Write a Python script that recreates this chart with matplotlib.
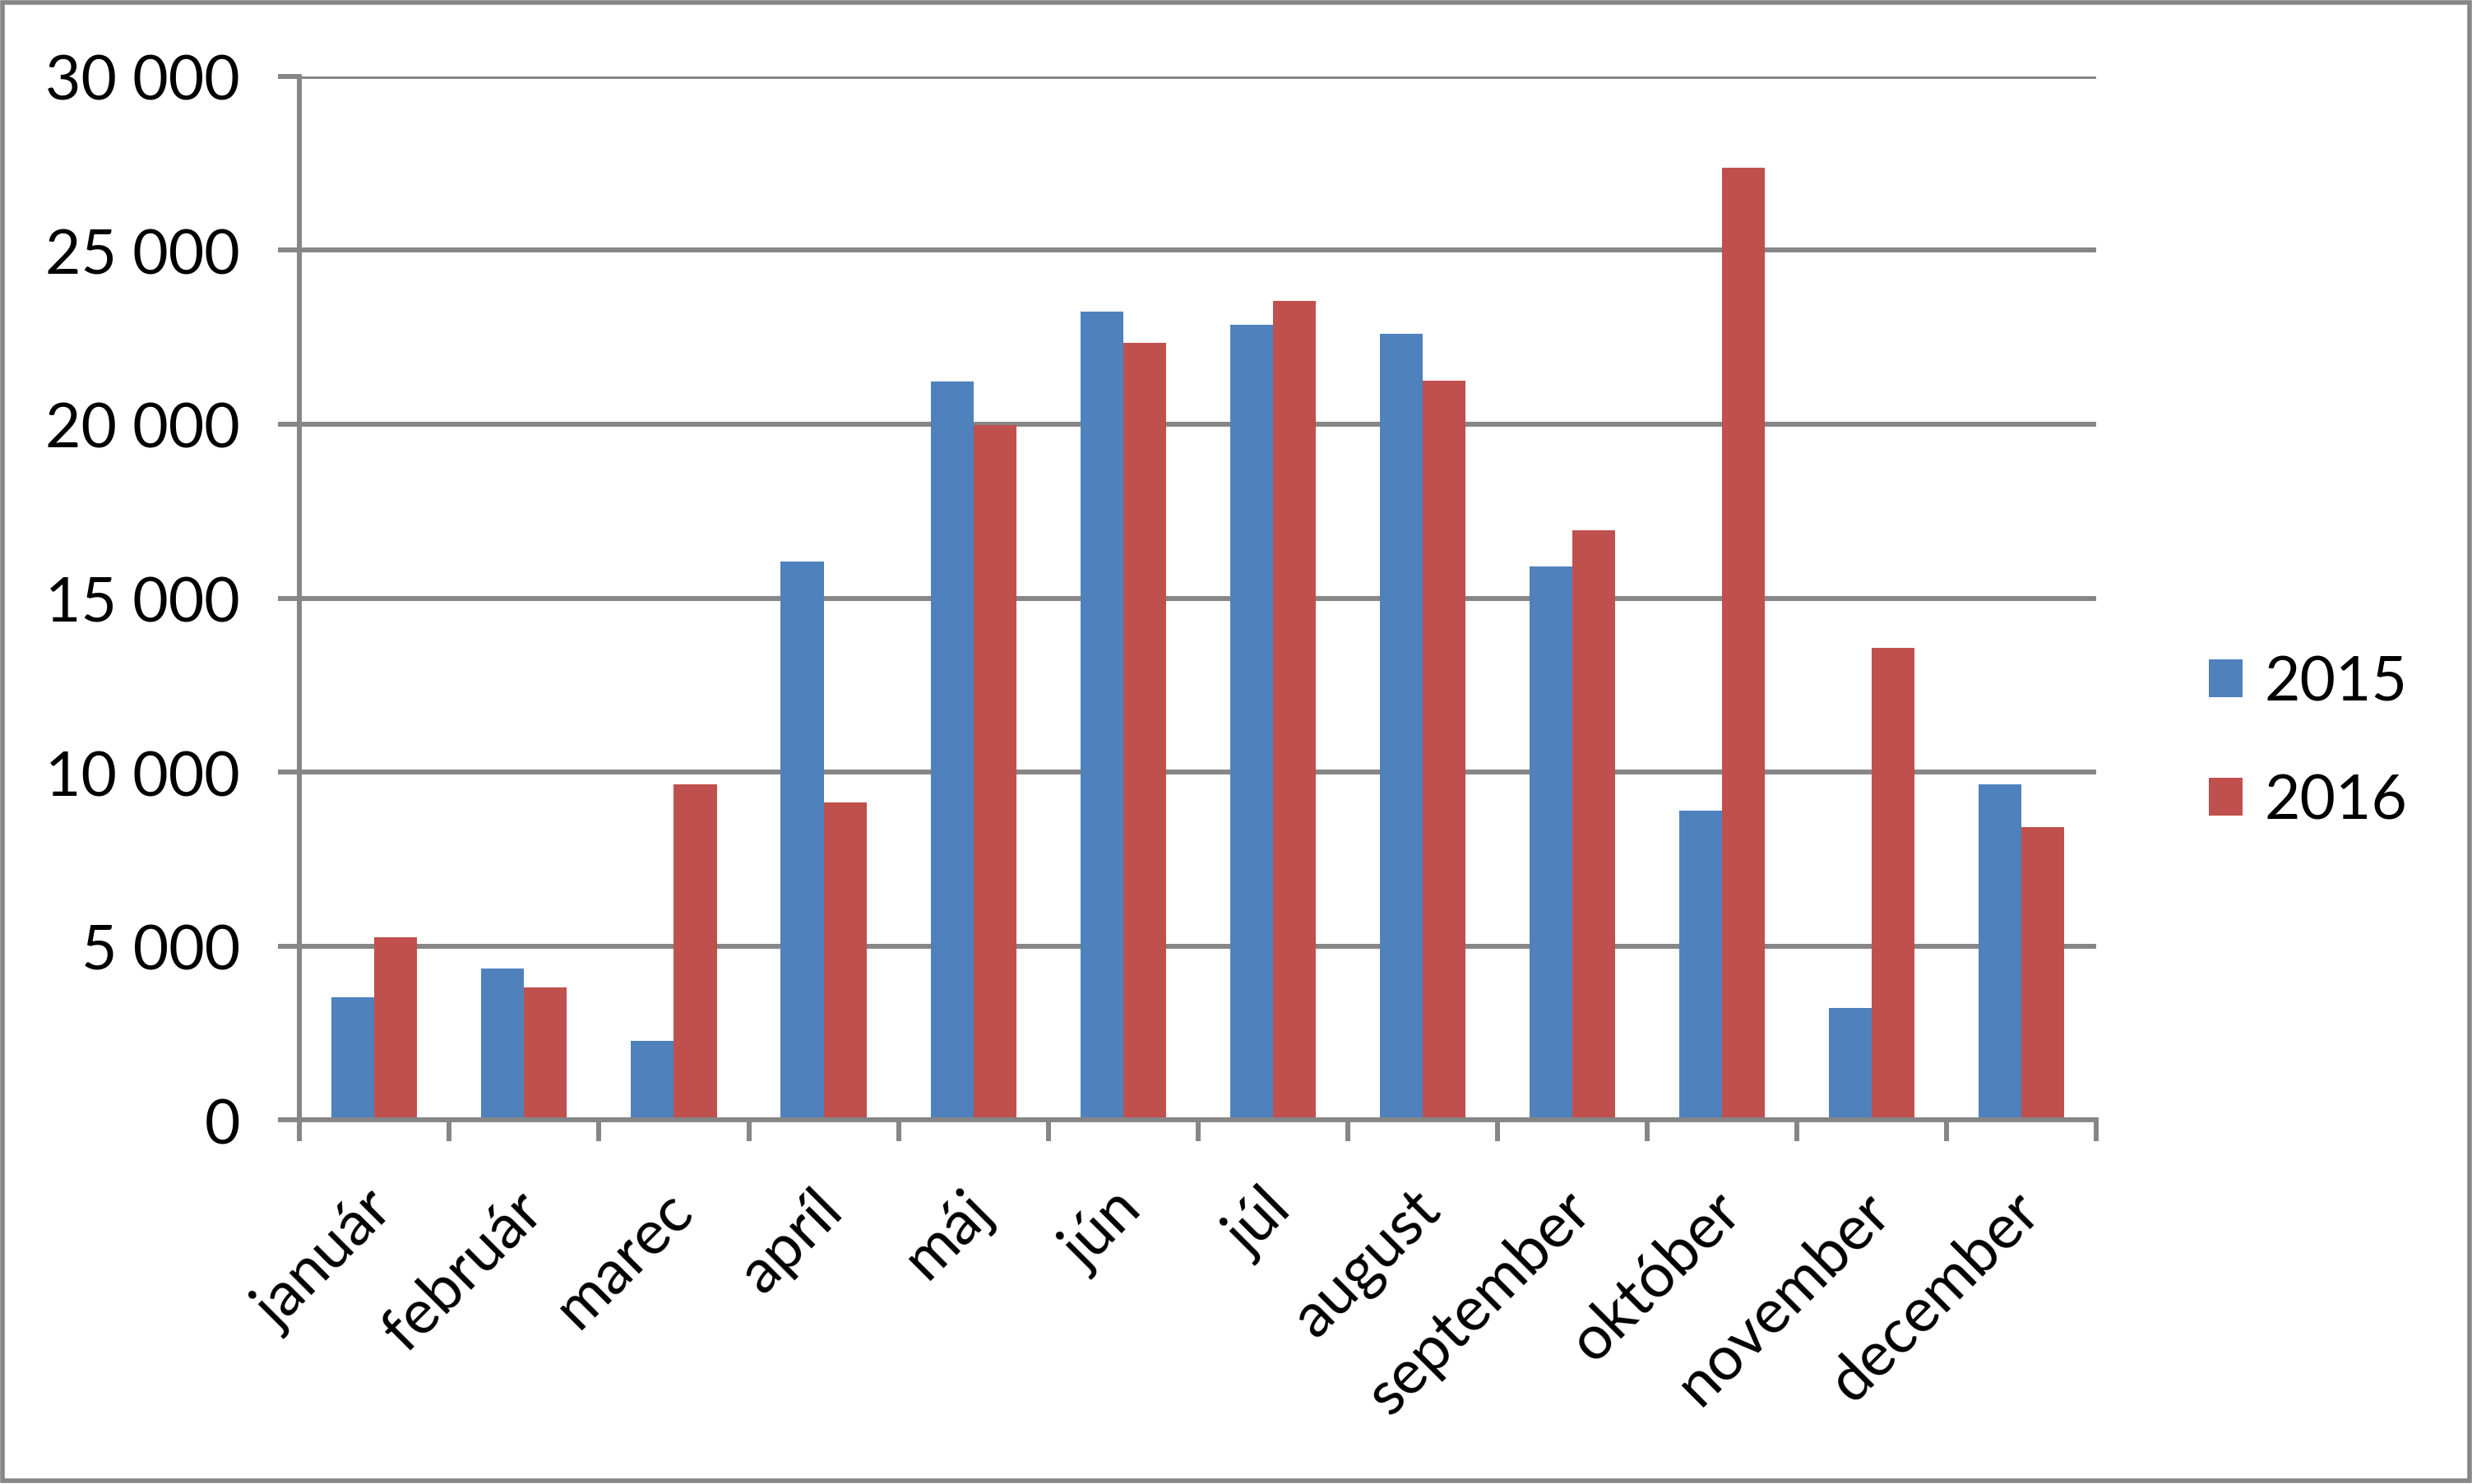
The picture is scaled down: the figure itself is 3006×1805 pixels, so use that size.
import matplotlib
matplotlib.use('Agg')
import matplotlib.pyplot as plt
import matplotlib.transforms as mtransforms
from matplotlib.patches import Rectangle
from matplotlib.ticker import FuncFormatter
import numpy as np

months = ['január', 'február', 'marec', 'apríl', 'máj', 'jún', 'júl',
          'august', 'september', 'október', 'november', 'december']
y2015 = [3520, 4350, 2270, 16050, 21220, 23230, 22850, 22600, 15900, 8880, 3220, 9650]
y2016 = [5260, 3800, 9650, 9120, 19980, 22350, 23550, 21260, 16960, 27380, 13560, 8430]
series = ['2015', '2016']
colors = ['#4F81BD', '#C0504D']
gray = '#868686'

plt.rcParams['font.family'] = ['Lato', 'DejaVu Sans']
fs = 54

fig = plt.figure(figsize=(30.06, 18.06), dpi=100)
ax = fig.add_axes([0.1212, 0.2452, 0.848 - 0.1212, 0.948 - 0.2452])

x = np.arange(len(months))
w = 0.286
ax.bar(x - w / 2, y2015, w, color=colors[0], label=series[0], zorder=3)
ax.bar(x + w / 2, y2016, w, color=colors[1], label=series[1], zorder=3)

ax.set_xlim(-0.5, len(months) - 0.5)
ax.set_ylim(0, 30000)
ax.set_yticks(np.arange(0, 30001, 5000))
ax.yaxis.set_major_formatter(FuncFormatter(lambda v, p: f'{int(v):,}'.replace(',', ' ')))
ax.grid(axis='y', color=gray, linewidth=4.3, zorder=0)

# tick marks at category boundaries, labels at centres
ax.set_xticks(np.arange(-0.5, len(months), 1.0), minor=True)
ax.set_xticks(x)
ax.set_xticklabels(months, rotation=45, ha='right', va='center', rotation_mode='anchor')
ax.tick_params(axis='x', which='major', length=0, pad=70, labelsize=fs)
ax.tick_params(axis='x', which='minor', length=19, width=4.3, color=gray, direction='out')
ax.tick_params(axis='y', length=19, width=4.3, color=gray, direction='out', pad=33, labelsize=fs)
off = mtransforms.ScaledTranslation(8 / 72, 0, fig.dpi_scale_trans)
for lab in ax.get_xticklabels():
    lab.set_transform(lab.get_transform() + off)

for s in ['top', 'right']:
    ax.spines[s].set_visible(False)
for s in ['left', 'bottom']:
    ax.spines[s].set_color(gray)
    ax.spines[s].set_linewidth(4.3)
    ax.spines[s].set_zorder(4)

fig.legend(loc='center left', bbox_to_anchor=(0.871, 0.5), frameon=False,
           fontsize=fs, handlelength=0.55, handleheight=0.55,
           handletextpad=0.35, labelspacing=1.0)

fig.patches.append(Rectangle((0.001, 0.002), 0.998, 0.996, transform=fig.transFigure,
                             fill=False, edgecolor=gray, linewidth=4))

fig.savefig('out.png', dpi=100)
